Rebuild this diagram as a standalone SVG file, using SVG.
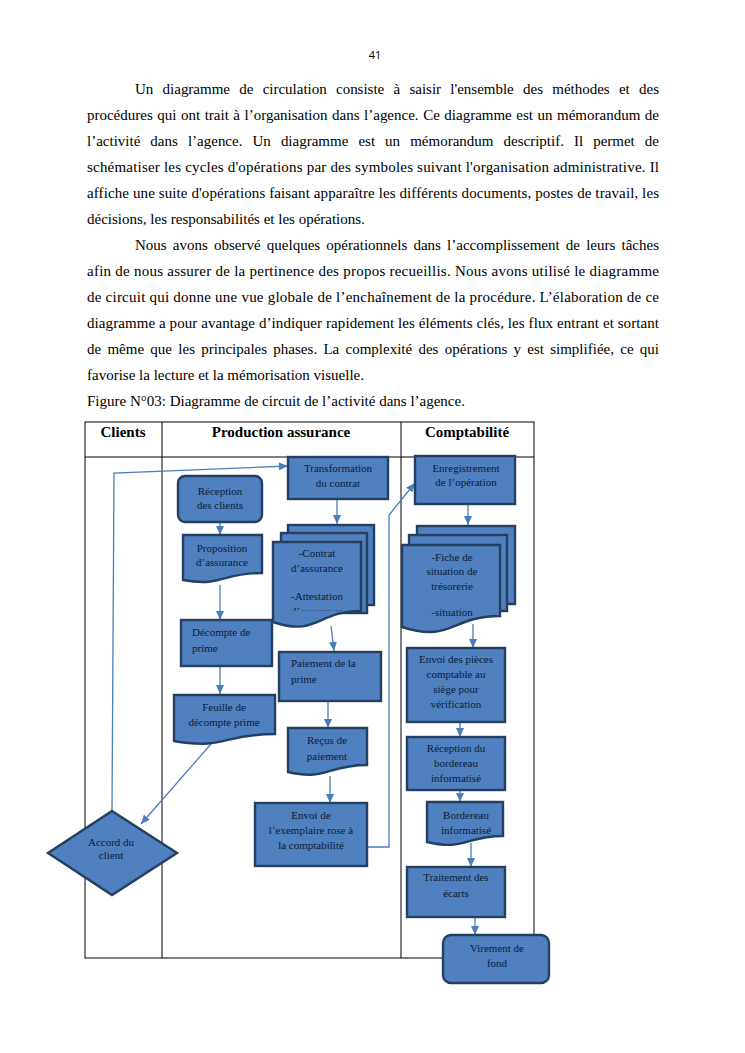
<svg xmlns="http://www.w3.org/2000/svg" width="745" height="1053" viewBox="0 0 745 1053">
<style>
.body{font-family:"Liberation Serif","Times New Roman",serif;font-size:15px;fill:#000}
.hdr{font-family:"Liberation Serif","Times New Roman",serif;font-size:15px;font-weight:bold;fill:#000}
.nt{font-family:"Liberation Serif","Times New Roman",serif;font-size:11px;fill:#0b1b36}
.c{text-anchor:middle}
.shape{fill:#4f80bf;stroke:#243f60;stroke-width:2.4}
.grid{stroke:#000;stroke-width:1;fill:none}
.conn{fill:none;stroke:#4a7ebb;stroke-width:1.3}
</style>
<defs>
<marker id="arr" markerUnits="userSpaceOnUse" markerWidth="10" markerHeight="8" refX="9" refY="4" orient="auto">
<path d="M0,0 L9,4 L0,8 Z" fill="#4a7ebb"/>
</marker>
<clipPath id="clipMd1"><rect x="273" y="541" width="90" height="69.5"/></clipPath>
</defs>
<rect width="745" height="1053" fill="#fff"/>
<g id="page-text">
<text x="375" y="59" font-family="'Open Sans','Noto Sans',sans-serif" font-size="11" text-anchor="middle">41</text>
<text class="body" x="135" y="94" word-spacing="5.5" textLength="524" lengthAdjust="spacing">Un diagramme de circulation consiste à saisir l'ensemble des méthodes et des</text>
<text class="body" x="87" y="120" word-spacing="0.8" textLength="572" lengthAdjust="spacing">procédures qui ont trait à l’organisation dans l’agence. Ce diagramme est un mémorandum de</text>
<text class="body" x="87" y="146" word-spacing="6.3" textLength="572" lengthAdjust="spacing">l’activité dans l’agence. Un diagramme est un mémorandum descriptif. Il permet de</text>
<text class="body" x="87" y="172" textLength="572" lengthAdjust="spacing">schématiser les cycles d'opérations par des symboles suivant l'organisation administrative. Il</text>
<text class="body" x="87" y="198" textLength="572" lengthAdjust="spacing">affiche une suite d'opérations faisant apparaître les différents documents, postes de travail, les</text>
<text class="body" x="87" y="224">décisions, les responsabilités et les opérations.</text>
<text class="body" x="135" y="250" word-spacing="2.4" textLength="524" lengthAdjust="spacing">Nous avons observé quelques opérationnels dans l’accomplissement de leurs tâches</text>
<text class="body" x="87" y="276" textLength="572" lengthAdjust="spacing">afin de nous assurer de la pertinence des propos recueillis. Nous avons utilisé le diagramme</text>
<text class="body" x="87" y="302" textLength="572" lengthAdjust="spacing">de circuit qui donne une vue globale de l’enchaînement de la procédure. L’élaboration de ce</text>
<text class="body" x="87" y="328" textLength="572" lengthAdjust="spacing">diagramme a pour avantage d’indiquer rapidement les éléments clés, les flux entrant et sortant</text>
<text class="body" x="87" y="354" word-spacing="2.5" textLength="572" lengthAdjust="spacing">de même que les principales phases. La complexité des opérations y est simplifiée, ce qui</text>
<text class="body" x="87" y="380">favorise la lecture et la mémorisation visuelle.</text>
<text class="body" x="87" y="406">Figure N°03: Diagramme de circuit de l’activité dans l’agence.</text>
</g>
<g id="table">
<rect class="grid" x="85" y="422" width="449" height="536"/>
<line class="grid" x1="85" y1="457" x2="534" y2="457"/>
<line class="grid" x1="162" y1="422" x2="162" y2="958"/>
<line class="grid" x1="401" y1="422" x2="401" y2="958"/>
<text class="hdr c" x="123" y="437">Clients</text>
<text class="hdr c" x="281" y="437">Production assurance</text>
<text class="hdr c" x="467" y="437">Comptabilité</text>
</g>
<g id="connectors">
<line class="conn" x1="220" y1="522" x2="220" y2="535" marker-end="url(#arr)"/>
<line class="conn" x1="220" y1="585" x2="220" y2="620" marker-end="url(#arr)"/>
<line class="conn" x1="220" y1="666" x2="220" y2="694" marker-end="url(#arr)"/>
<line class="conn" x1="211" y1="744" x2="141" y2="824" marker-end="url(#arr)"/>
<polyline class="conn" points="112,811 114,473 288,466" marker-end="url(#arr)"/>
<line class="conn" x1="337" y1="499" x2="337" y2="524" marker-end="url(#arr)"/>
<line class="conn" x1="331" y1="626" x2="334" y2="651" marker-end="url(#arr)"/>
<line class="conn" x1="328" y1="701" x2="328" y2="728" marker-end="url(#arr)"/>
<line class="conn" x1="330" y1="776" x2="330" y2="803" marker-end="url(#arr)"/>
<polyline class="conn" points="367,847 389,847 389,515 415,483" marker-end="url(#arr)"/>
<line class="conn" x1="468" y1="505" x2="468" y2="525" marker-end="url(#arr)"/>
<line class="conn" x1="473" y1="624" x2="473" y2="648" marker-end="url(#arr)"/>
<line class="conn" x1="460" y1="722" x2="460" y2="737" marker-end="url(#arr)"/>
<line class="conn" x1="460" y1="790" x2="460" y2="802" marker-end="url(#arr)"/>
<line class="conn" x1="471" y1="843" x2="471" y2="867" marker-end="url(#arr)"/>
<line class="conn" x1="475" y1="917" x2="475" y2="935" marker-end="url(#arr)"/>
</g>
<g id="transformation">
<rect class="shape" x="288" y="457" width="100" height="42"/>
<text class="nt c" x="338" y="471.5">Transformation</text>
<text class="nt c" x="338" y="486.5">du contrat</text>
</g>
<g id="reception-clients">
<rect class="shape" x="178" y="476" width="84" height="46" rx="7"/>
<text class="nt c" x="220" y="495">Réception</text>
<text class="nt c" x="220" y="509">des clients</text>
</g>
<g id="proposition">
<path class="shape" d="M183,535 H262 V573 C222,573 222,587 183,580 Z"/>
<text class="nt c" x="222" y="551.5">Proposition</text>
<text class="nt c" x="222" y="566">d’assurance</text>
</g>
<g id="contrat-docs">
<rect class="shape" x="288" y="525" width="86" height="80"/>
<rect class="shape" x="281" y="533" width="86" height="80"/>
<path class="shape" d="M273,542 H361 V611 C317,611 317,637 273,622 Z"/>
<g clip-path="url(#clipMd1)">
<text class="nt c" x="317" y="556.5">-Contrat</text>
<text class="nt c" x="317" y="571.5">d’assurance</text>
<text class="nt c" x="317" y="599.5">-Attestation</text>
<text class="nt c" x="317" y="614.5">d’assurance</text>
</g>
</g>
<g id="decompte">
<rect class="shape" x="181" y="620" width="91" height="46"/>
<text class="nt" x="192" y="636">Décompte de</text>
<text class="nt" x="192" y="651.5">prime</text>
</g>
<g id="paiement">
<rect class="shape" x="279" y="652" width="102" height="49"/>
<text class="nt" x="291" y="666.5">Paiement de la</text>
<text class="nt" x="291" y="682.5">prime</text>
</g>
<g id="feuille">
<path class="shape" d="M174,695 H275 V734 C224,734 224,750 174,741 Z"/>
<text class="nt c" x="224" y="710.5">Feuille de</text>
<text class="nt c" x="224" y="725.5">décompte prime</text>
</g>
<g id="recus">
<path class="shape" d="M288,728 H367 V765 C327,765 327,781 288,772 Z"/>
<text class="nt c" x="327" y="743.5">Reçus de</text>
<text class="nt c" x="327" y="759.5">paiement</text>
</g>
<g id="envoi-exemplaire">
<rect class="shape" x="255" y="803" width="112" height="63"/>
<text class="nt c" x="311" y="818.5">Envoi de</text>
<text class="nt c" x="311" y="834">l’exemplaire rose à</text>
<text class="nt c" x="311" y="848.5">la comptabilité</text>
</g>
<g id="accord">
<path class="shape" d="M112,811 L177,853 L112,895 L48,853 Z"/>
<text class="nt c" x="111" y="845.5">Accord du</text>
<text class="nt c" x="111" y="859">client</text>
</g>
<g id="enregistrement">
<rect class="shape" x="415" y="456" width="100" height="48"/>
<text class="nt c" x="466" y="471.5">Enregistrement</text>
<text class="nt c" x="466" y="486">de l’opération</text>
</g>
<g id="fiche-docs">
<rect class="shape" x="417" y="526" width="98" height="78"/>
<rect class="shape" x="409" y="535" width="98" height="76"/>
<path class="shape" d="M402,545 H500 V616 C451,616 451,643 402,627 Z"/>
<text class="nt c" x="452" y="560.5">-Fiche de</text>
<text class="nt c" x="452" y="575">situation de</text>
<text class="nt c" x="452" y="590">trésorerie</text>
<text class="nt c" x="452" y="616">-situation</text>
</g>
<g id="envoi-pieces">
<rect class="shape" x="407" y="648" width="98" height="74"/>
<text class="nt c" x="456" y="662.5">Envoi des pièces</text>
<text class="nt c" x="456" y="677.5">comptable au</text>
<text class="nt c" x="456" y="692.5">siège pour</text>
<text class="nt c" x="456" y="707.5">vérification</text>
</g>
<g id="reception-bordereau">
<rect class="shape" x="407" y="737" width="98" height="53"/>
<text class="nt c" x="456" y="752">Réception du</text>
<text class="nt c" x="456" y="767">bordereau</text>
<text class="nt c" x="456" y="782">informatisé</text>
</g>
<g id="bordereau">
<path class="shape" d="M427,802 H503 V836 C465,836 465,851 427,842 Z"/>
<text class="nt c" x="466" y="818.5">Bordereau</text>
<text class="nt c" x="466" y="833.5">informatisé</text>
</g>
<g id="traitement">
<rect class="shape" x="407" y="867" width="98" height="50"/>
<text class="nt c" x="456" y="881">Traitement des</text>
<text class="nt c" x="456" y="897">écarts</text>
</g>
<g id="virement">
<rect class="shape" x="443" y="935" width="106" height="48" rx="8"/>
<text class="nt c" x="497" y="951.5">Virement de</text>
<text class="nt c" x="497" y="967">fond</text>
</g>
</svg>
